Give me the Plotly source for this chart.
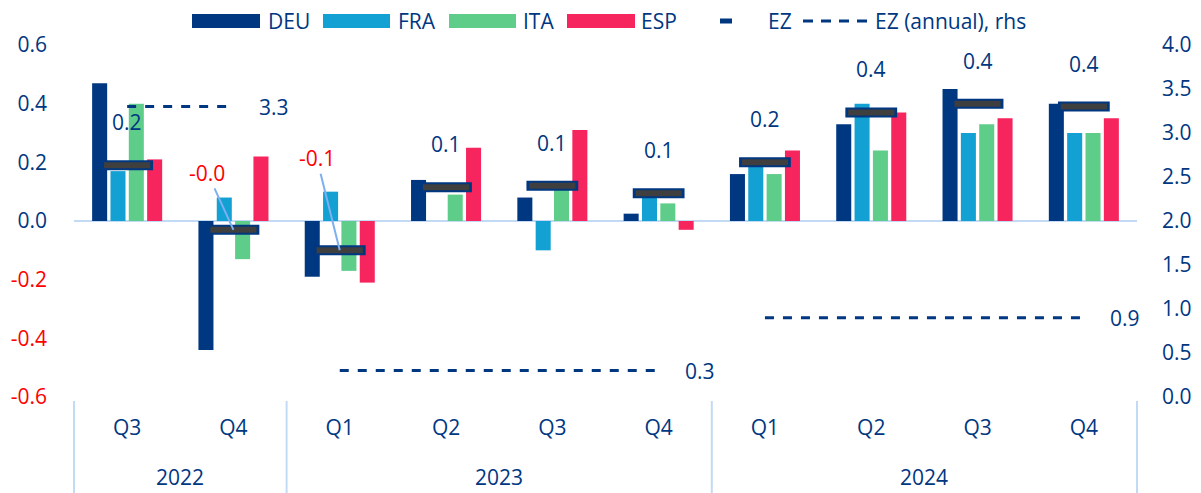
import plotly.graph_objects as go

# ---------------------------------------------------------------------------
# Data (q/q GDP growth, %, and euro-zone annual growth on the rhs)
# ---------------------------------------------------------------------------
YEARS = ["2022", "2022", "2023", "2023", "2023", "2023", "2024", "2024", "2024", "2024"]
QUARTERS = ["Q3", "Q4", "Q1", "Q2", "Q3", "Q4", "Q1", "Q2", "Q3", "Q4"]

DEU = [0.47, -0.44, -0.19, 0.14, 0.08, 0.025, 0.16, 0.33, 0.45, 0.40]
FRA = [0.17, 0.08, 0.10, 0.0, -0.10, 0.09, 0.19, 0.40, 0.30, 0.30]
ITA = [0.40, -0.13, -0.17, 0.09, 0.11, 0.06, 0.16, 0.24, 0.33, 0.30]
ESP = [0.21, 0.22, -0.21, 0.25, 0.31, -0.03, 0.24, 0.37, 0.35, 0.35]
EZ = [0.19, -0.03, -0.10, 0.115, 0.12, 0.095, 0.20, 0.37, 0.40, 0.39]

EZ_ANNUAL_YEARS = ["2022", "2023", "2024"]
EZ_ANNUAL = [3.3, 0.3, 0.9]

LEFT_TICKS = [-0.6, -0.4, -0.2, 0.0, 0.2, 0.4, 0.6]

# ---------------------------------------------------------------------------
# Style
# ---------------------------------------------------------------------------
NAVY = "#003781"
BLUE = "#13A0D3"
GREEN = "#5FCD8A"
PINK = "#F7255D"
RED = "#FF0000"
DARK = "#3F3F3F"
LIGHT = "#C3DAF5"
LEADER = "#7DB0EF"
FONT = "Open Sans"
FS = 21

# page is shown with an 8px body margin, so the figure is shifted by OFF
OFF = 8
W, H = 1201 - OFF, 493 - OFF
PL, PR, PT, PB = 74, 1137, 45, 397          # plot area in page pixels
L, T = PL - OFF, PT - OFF
R, B = W - (PR - OFF), H - (PB - OFF)


def px(x):
    return (x - PL) / (PR - PL)


def py(y):
    return (PB - y) / (PB - PT)


keys = [f"{y} {q}" for y, q in zip(YEARS, QUARTERS)]
n = len(keys)

fig = go.Figure()

for name, vals, col in [("DEU", DEU, NAVY), ("FRA", FRA, BLUE),
                        ("ITA", ITA, GREEN), ("ESP", ESP, PINK)]:
    fig.add_trace(go.Bar(
        x=keys, y=vals, name=name, marker_color=col,
        marker_line_width=0, showlegend=False,
    ))

# EZ quarterly marker: navy outlined dark dash
fig.add_trace(go.Scatter(
    x=keys, y=EZ, mode="markers", name="EZ", showlegend=False,
    marker=dict(symbol="line-ew", size=37, line=dict(width=10, color=NAVY)),
))
fig.add_trace(go.Scatter(
    x=keys, y=EZ, mode="markers", showlegend=False, hoverinfo="skip",
    marker=dict(symbol="line-ew", size=33, line=dict(width=6, color=DARK)),
))

# EZ annual (rhs), one dashed segment per year
for yr, val in zip(EZ_ANNUAL_YEARS, EZ_ANNUAL):
    idx = [i for i, y in enumerate(YEARS) if y == yr]
    fig.add_trace(go.Scatter(
        x=[keys[i] for i in idx], y=[val] * len(idx), yaxis="y2",
        mode="lines", showlegend=False,
        line=dict(color=NAVY, width=3, dash="9px,9px"),
    ))
    fig.add_annotation(
        x=keys[idx[-1]], y=val, yref="y2", text=f"{val:.1f}", showarrow=False,
        xanchor="left", xshift=24, font=dict(size=FS, color=NAVY),
    )

# EZ value labels
neg_offsets = [(-26, -57), (-23, -92)]
n_neg = 0
for i, v in enumerate(EZ):
    txt = f"{v:.1f}"
    if v < 0:
        ax, ay = neg_offsets[min(n_neg, 1)]
        n_neg += 1
        fig.add_annotation(
            x=keys[i], y=v, text=txt, showarrow=True, arrowhead=0, arrowwidth=2,
            arrowcolor=LEADER, ax=ax, ay=ay, standoff=0,
            font=dict(size=FS, color=RED),
        )
    else:
        fig.add_annotation(
            x=keys[i], y=v, text=txt, showarrow=False, yshift=43,
            font=dict(size=FS, color=NAVY),
        )

# ---------------------------------------------------------------------------
# Year row and group dividers under the axis
# ---------------------------------------------------------------------------
shapes = []
bounds = [0] + [i for i in range(1, n) if YEARS[i] != YEARS[i - 1]] + [n]
for b in bounds:
    shapes.append(dict(type="line", xref="paper", yref="paper",
                       x0=b / n, x1=b / n, y0=py(401), y1=py(500),
                       line=dict(color=LIGHT, width=2)))
for a, b in zip(bounds[:-1], bounds[1:]):
    fig.add_annotation(x=(a + b - 1) / 2, yref="paper", y=py(477),
                       text=YEARS[a], showarrow=False, yanchor="middle",
                       font=dict(size=FS, color=NAVY))

# ---------------------------------------------------------------------------
# Legend (drawn by hand to get the wide swatches)
# ---------------------------------------------------------------------------
ly = 21
for (x0, x1, col, label, tx) in [(192, 260, NAVY, "DEU", 266),
                                  (323, 390, BLUE, "FRA", 396),
                                  (449, 516, GREEN, "ITA", 521),
                                  (567, 635, PINK, "ESP", 639)]:
    shapes.append(dict(type="rect", xref="paper", yref="paper",
                       x0=px(x0), x1=px(x1), y0=py(ly - 7), y1=py(ly + 7),
                       fillcolor=col, line_width=0, layer="above"))
    fig.add_annotation(xref="paper", yref="paper", x=px(tx), y=py(ly),
                       text=label, showarrow=False, xanchor="left",
                       yanchor="middle", font=dict(size=FS, color=NAVY))
shapes.append(dict(type="line", xref="paper", yref="paper",
                   x0=px(720), x1=px(732), y0=py(ly), y1=py(ly),
                   line=dict(color=NAVY, width=5)))
fig.add_annotation(xref="paper", yref="paper", x=px(766), y=py(ly),
                   text="EZ", showarrow=False, xanchor="left",
                   yanchor="middle", font=dict(size=FS, color=NAVY))
shapes.append(dict(type="line", xref="paper", yref="paper",
                   x0=px(803), x1=px(868), y0=py(ly), y1=py(ly),
                   line=dict(color=NAVY, width=3, dash="10px,8px")))
fig.add_annotation(xref="paper", yref="paper", x=px(873), y=py(ly),
                   text="EZ (annual), rhs", showarrow=False, xanchor="left",
                   yanchor="middle", font=dict(size=FS, color=NAVY))

# ---------------------------------------------------------------------------
# Layout
# ---------------------------------------------------------------------------
left_text = [f"<span style='color:{RED if t < 0 else NAVY}'>{t:.1f}</span>"
             for t in LEFT_TICKS]

fig.update_layout(
    width=W, height=H,
    margin=dict(l=L, r=R, t=T, b=B, autoexpand=False),
    plot_bgcolor="white", paper_bgcolor="white",
    font=dict(family=FONT, size=FS, color=NAVY),
    barmode="group", bargap=0.31, bargroupgap=0.18,
    showlegend=False,
    shapes=shapes,
    xaxis=dict(
        type="category", range=[-0.5, n - 0.5], automargin=False,
        tickvals=keys, ticktext=QUARTERS,
        showgrid=False, showline=False, zeroline=False, ticks="",
        ticklabelstandoff=16, tickfont=dict(size=FS, color=NAVY),
    ),
    yaxis=dict(
        range=[-0.6, 0.6], tickvals=LEFT_TICKS, ticktext=left_text,
        automargin=False,
        showgrid=False, zeroline=True, zerolinecolor=LIGHT, zerolinewidth=2,
        showline=False, ticks="", ticklabelstandoff=26,
        tickfont=dict(size=FS, color=NAVY),
    ),
    yaxis2=dict(
        range=[0, 4], dtick=0.5, tickformat=".1f", overlaying="y", side="right",
        automargin=False,
        showgrid=False, zeroline=False, showline=False, ticks="",
        ticklabelstandoff=24, tickfont=dict(size=FS, color=NAVY),
    ),
)

fig.write_html("out.html")
